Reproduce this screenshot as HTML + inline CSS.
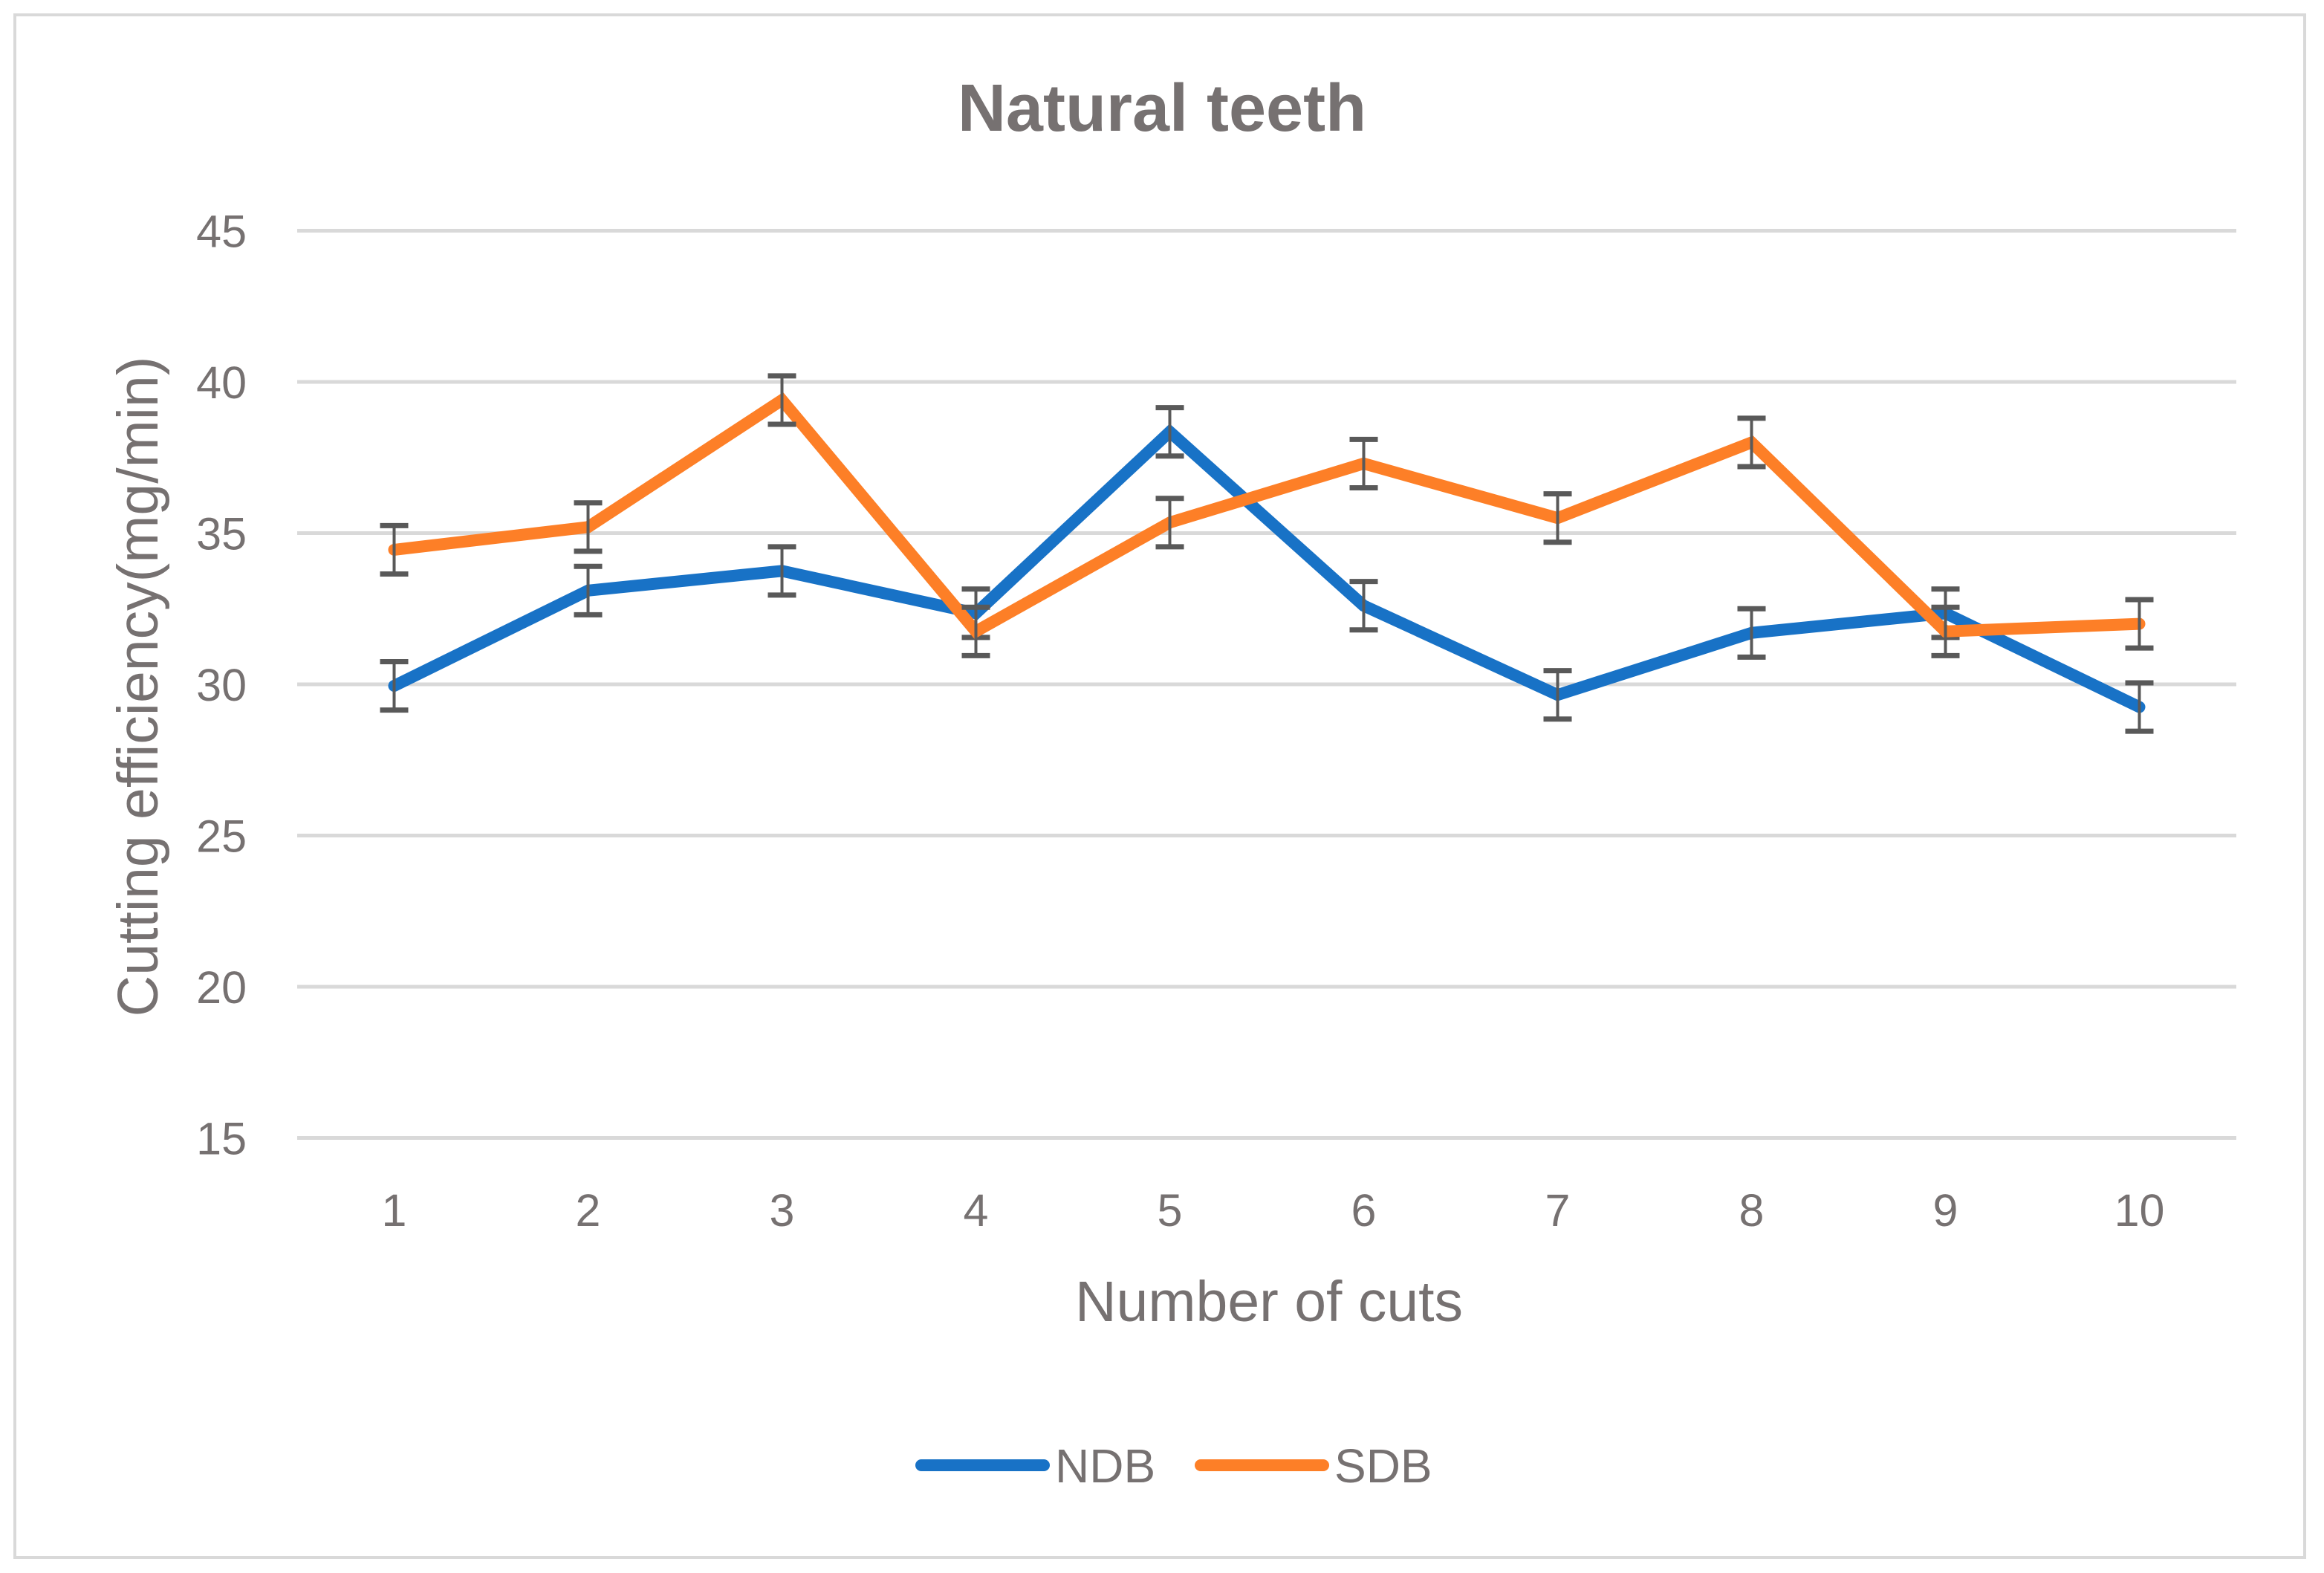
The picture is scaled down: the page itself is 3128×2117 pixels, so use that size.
<!DOCTYPE html>
<html><head><meta charset="utf-8"><style>
html,body{margin:0;padding:0;background:#fff;}
svg{display:block;font-family:"Liberation Sans",sans-serif;}
</style></head><body>
<svg id="chart" width="3128" height="2117" viewBox="0 0 3128 2117">
<rect x="20" y="20" width="3082" height="2076" fill="#fff" stroke="#d9d9d9" stroke-width="4"/>
<text x="1564" y="176" text-anchor="middle" font-size="90" font-weight="bold" fill="#767171">Natural teeth</text>
<g id="grid"></g><g id="yticks"></g><g id="xticks"></g><g id="series"></g>
<text transform="translate(212,924) rotate(-90)" text-anchor="middle" font-size="77" fill="#767171">Cutting efficiency(mg/min)</text>
<text x="1708" y="1778" text-anchor="middle" font-size="77" fill="#767171">Number of cuts</text>
<g>
<g><line x1="1240" y1="1972" x2="1405" y2="1972" stroke="#1872c6" stroke-width="16" stroke-linecap="round"/><text x="1420" y="1995" font-size="64" fill="#767171">NDB</text></g>
<g><line x1="1616" y1="1972" x2="1781" y2="1972" stroke="#fd7f27" stroke-width="16" stroke-linecap="round"/><text x="1796" y="1995" font-size="64" fill="#767171">SDB</text></g>
</g>
</svg>
<script>
const categories=["1","2","3","4","5","6","7","8","9","10"];
const ndbValues=[29.95,33.1,33.75,32.35,38.35,32.6,29.65,31.7,32.35,29.25];
const sdbValues=[34.45,35.2,39.4,31.75,35.35,37.3,35.5,38.0,31.75,32.0];
const ndbErrors=[0.8,0.8,0.8,0.8,0.8,0.8,0.8,0.8,0.8,0.8];
const sdbErrors=[0.8,0.8,0.8,0.8,0.8,0.8,0.8,0.8,0.8,0.8];
const yTicks=[15,20,25,30,35,40,45];
const NS="http://www.w3.org/2000/svg";
const plotL=400,plotR=3010,yMin=15,yMax=45,yTop=310.5,yBot=1531.5;
function xs(i){return plotL+(plotR-plotL)/categories.length*(i+0.5);}
function ys(v){return yBot-(v-yMin)/(yMax-yMin)*(yBot-yTop);}
function mk(tag,attrs,parent){const e=document.createElementNS(NS,tag);for(const k in attrs)e.setAttribute(k,attrs[k]);parent.appendChild(e);return e;}
const grid=document.getElementById('grid'),yt=document.getElementById('yticks'),xt=document.getElementById('xticks'),ser=document.getElementById('series');
yTicks.forEach(t=>{
 const l=mk('line',{x1:plotL,x2:plotR,y1:ys(t),y2:ys(t),stroke:'#d9d9d9','stroke-width':5},grid);
 
 
 const tx=mk('text',{x:332,y:ys(t)+22,'text-anchor':'end','font-size':61,fill:'#767171'},yt);
 tx.textContent=t;
 
 
});
categories.forEach((c,i)=>{
 const tx=mk('text',{x:xs(i),y:1650,'text-anchor':'middle','font-size':61,fill:'#767171'},xt);
 tx.textContent=c;
 
 
});
function drawSeries(vals,errs,color,name){
 const g=mk('g',{},ser);
 
 
 const pts=vals.map((v,i)=>xs(i)+','+ys(v)).join(' ');
 const pl=mk('polyline',{points:pts,fill:'none',stroke:color,'stroke-width':16,'stroke-linejoin':'miter','stroke-linecap':'round'},g);
 
 
 vals.forEach((v,i)=>{
  const x=xs(i),t=ys(v+errs[i]),b=ys(v-errs[i]);
  const eg=mk('g',{stroke:'#595959'},g);
  
  
  mk('line',{x1:x,x2:x,y1:t,y2:b,'stroke-width':4},eg);
  mk('line',{x1:x-19,x2:x+19,y1:t,y2:t,'stroke-width':7},eg);
  mk('line',{x1:x-19,x2:x+19,y1:b,y2:b,'stroke-width':7},eg);
 });
}
drawSeries(ndbValues,ndbErrors,'#1872c6','ndb');
drawSeries(sdbValues,sdbErrors,'#fd7f27','sdb');
</script>
</body></html>
